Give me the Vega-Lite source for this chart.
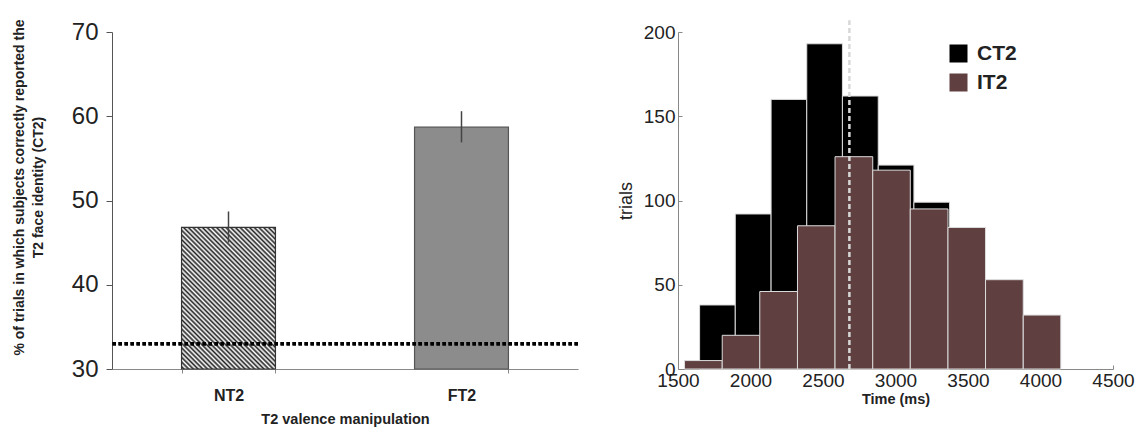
{
  "$schema": "https://vega.github.io/schema/vega-lite/v6.json",
  "padding": {"left": 12, "top": 18, "right": 5, "bottom": 5},
  "bounds": "flush",
  "spacing": 100,
  "config": {
    "view": {"stroke": null},
    "font": "Liberation Sans",
    "axis": {"grid": false, "labelColor": "#222", "titleColor": "#222", "labelFont": "Liberation Sans", "titleFont": "Liberation Sans"}
  },
  "hconcat": [
    {
      "width": 466,
      "height": 337,
      "data": {"values": [
        {"condition": "NT2", "percent": 46.8, "lower": 45.0, "upper": 48.7},
        {"condition": "FT2", "percent": 58.7, "lower": 56.9, "upper": 60.6}
      ]},
      "layer": [
        {
          "transform": [{"filter": "datum.condition === 'NT2'"}],
          "mark": {"type": "bar", "stroke": "#333", "strokeWidth": 1.2,
            "fill": {"gradient": "linear", "x1": 0, "y1": 1, "x2": 0.766, "y2": -0.155, "stops": [
              {"offset": 0.00, "color": "#ffffff"}, {"offset": 0.01, "color": "#222222"}, {"offset": 0.02, "color": "#ffffff"}, {"offset": 0.03, "color": "#222222"}, {"offset": 0.04, "color": "#ffffff"}, {"offset": 0.05, "color": "#222222"}, {"offset": 0.06, "color": "#ffffff"}, {"offset": 0.07, "color": "#222222"}, {"offset": 0.08, "color": "#ffffff"}, {"offset": 0.09, "color": "#222222"},
              {"offset": 0.10, "color": "#ffffff"}, {"offset": 0.11, "color": "#222222"}, {"offset": 0.12, "color": "#ffffff"}, {"offset": 0.13, "color": "#222222"}, {"offset": 0.14, "color": "#ffffff"}, {"offset": 0.15, "color": "#222222"}, {"offset": 0.16, "color": "#ffffff"}, {"offset": 0.17, "color": "#222222"}, {"offset": 0.18, "color": "#ffffff"}, {"offset": 0.19, "color": "#222222"},
              {"offset": 0.20, "color": "#ffffff"}, {"offset": 0.21, "color": "#222222"}, {"offset": 0.22, "color": "#ffffff"}, {"offset": 0.23, "color": "#222222"}, {"offset": 0.24, "color": "#ffffff"}, {"offset": 0.25, "color": "#222222"}, {"offset": 0.26, "color": "#ffffff"}, {"offset": 0.27, "color": "#222222"}, {"offset": 0.28, "color": "#ffffff"}, {"offset": 0.29, "color": "#222222"},
              {"offset": 0.30, "color": "#ffffff"}, {"offset": 0.31, "color": "#222222"}, {"offset": 0.32, "color": "#ffffff"}, {"offset": 0.33, "color": "#222222"}, {"offset": 0.34, "color": "#ffffff"}, {"offset": 0.35, "color": "#222222"}, {"offset": 0.36, "color": "#ffffff"}, {"offset": 0.37, "color": "#222222"}, {"offset": 0.38, "color": "#ffffff"}, {"offset": 0.39, "color": "#222222"},
              {"offset": 0.40, "color": "#ffffff"}, {"offset": 0.41, "color": "#222222"}, {"offset": 0.42, "color": "#ffffff"}, {"offset": 0.43, "color": "#222222"}, {"offset": 0.44, "color": "#ffffff"}, {"offset": 0.45, "color": "#222222"}, {"offset": 0.46, "color": "#ffffff"}, {"offset": 0.47, "color": "#222222"}, {"offset": 0.48, "color": "#ffffff"}, {"offset": 0.49, "color": "#222222"},
              {"offset": 0.50, "color": "#ffffff"}, {"offset": 0.51, "color": "#222222"}, {"offset": 0.52, "color": "#ffffff"}, {"offset": 0.53, "color": "#222222"}, {"offset": 0.54, "color": "#ffffff"}, {"offset": 0.55, "color": "#222222"}, {"offset": 0.56, "color": "#ffffff"}, {"offset": 0.57, "color": "#222222"}, {"offset": 0.58, "color": "#ffffff"}, {"offset": 0.59, "color": "#222222"},
              {"offset": 0.60, "color": "#ffffff"}, {"offset": 0.61, "color": "#222222"}, {"offset": 0.62, "color": "#ffffff"}, {"offset": 0.63, "color": "#222222"}, {"offset": 0.64, "color": "#ffffff"}, {"offset": 0.65, "color": "#222222"}, {"offset": 0.66, "color": "#ffffff"}, {"offset": 0.67, "color": "#222222"}, {"offset": 0.68, "color": "#ffffff"}, {"offset": 0.69, "color": "#222222"},
              {"offset": 0.70, "color": "#ffffff"}, {"offset": 0.71, "color": "#222222"}, {"offset": 0.72, "color": "#ffffff"}, {"offset": 0.73, "color": "#222222"}, {"offset": 0.74, "color": "#ffffff"}, {"offset": 0.75, "color": "#222222"}, {"offset": 0.76, "color": "#ffffff"}, {"offset": 0.77, "color": "#222222"}, {"offset": 0.78, "color": "#ffffff"}, {"offset": 0.79, "color": "#222222"},
              {"offset": 0.80, "color": "#ffffff"}, {"offset": 0.81, "color": "#222222"}, {"offset": 0.82, "color": "#ffffff"}, {"offset": 0.83, "color": "#222222"}, {"offset": 0.84, "color": "#ffffff"}, {"offset": 0.85, "color": "#222222"}, {"offset": 0.86, "color": "#ffffff"}, {"offset": 0.87, "color": "#222222"}, {"offset": 0.88, "color": "#ffffff"}, {"offset": 0.89, "color": "#222222"},
              {"offset": 0.90, "color": "#ffffff"}, {"offset": 0.91, "color": "#222222"}, {"offset": 0.92, "color": "#ffffff"}, {"offset": 0.93, "color": "#222222"}, {"offset": 0.94, "color": "#ffffff"}, {"offset": 0.95, "color": "#222222"}, {"offset": 0.96, "color": "#ffffff"}, {"offset": 0.97, "color": "#222222"}, {"offset": 0.98, "color": "#ffffff"}, {"offset": 0.99, "color": "#222222"},
              {"offset": 1.00, "color": "#ffffff"}
            ]}
          },
          "encoding": {
            "x": {"field": "condition", "type": "nominal",
              "scale": {"domain": ["NT2", "FT2"], "paddingInner": 0.597, "paddingOuter": 0.2985},
              "axis": {"title": "T2 valence manipulation", "labelAngle": 0, "labelFontSize": 16, "labelFontWeight": "bold", "labelPadding": 14, "tickBand": "extent", "tickSize": 4, "tickColor": "#888", "domainColor": "#888", "titleFontSize": 14.5, "titleFontWeight": "bold", "titlePadding": 9}},
            "y": {"field": "percent", "type": "quantitative",
              "scale": {"domain": [30, 70], "nice": false, "zero": false},
              "axis": {"title": ["% of trials in which subjects correctly reported the", "T2 face  identity (CT2)"], "titleFontSize": 14, "titleFontWeight": "bold", "titleLineHeight": 19, "titlePadding": 26, "titleY": 155, "values": [30, 40, 50, 60, 70], "labelFontSize": 24, "labelPadding": 8, "tickSize": 6, "tickColor": "#555", "domainColor": "#555"}},
            "y2": {"datum": 30}
          }
        },
        {
          "transform": [{"filter": "datum.condition === 'FT2'"}],
          "mark": {"type": "bar", "fill": "#8c8c8c", "stroke": "#555", "strokeWidth": 1.2},
          "encoding": {
            "x": {"field": "condition", "type": "nominal"},
            "y": {"field": "percent", "type": "quantitative"},
            "y2": {"datum": 30}
          }
        },
        {
          "mark": {"type": "rule", "stroke": "#444", "strokeWidth": 1.5},
          "encoding": {
            "x": {"field": "condition", "type": "nominal"},
            "y": {"field": "lower", "type": "quantitative"},
            "y2": {"field": "upper"}
          }
        },
        {
          "mark": {"type": "rule", "stroke": "#000", "strokeWidth": 3.5, "strokeDash": [3.5, 2.5]},
          "encoding": {"y": {"datum": 33, "type": "quantitative"}}
        }
      ]
    },
    {
      "width": 435,
      "height": 337,
      "layer": [
        {
          "data": {"values": [
            {"response": "CT2", "bin_start": 1649, "bin_end": 1895, "trials": 38},
            {"response": "CT2", "bin_start": 1895, "bin_end": 2142, "trials": 92},
            {"response": "CT2", "bin_start": 2142, "bin_end": 2388, "trials": 160},
            {"response": "CT2", "bin_start": 2388, "bin_end": 2634, "trials": 193},
            {"response": "CT2", "bin_start": 2634, "bin_end": 2881, "trials": 162},
            {"response": "CT2", "bin_start": 2881, "bin_end": 3127, "trials": 121},
            {"response": "CT2", "bin_start": 3127, "bin_end": 3373, "trials": 99},
            {"response": "IT2", "bin_start": 1545, "bin_end": 1805, "trials": 5},
            {"response": "IT2", "bin_start": 1805, "bin_end": 2064, "trials": 20},
            {"response": "IT2", "bin_start": 2064, "bin_end": 2324, "trials": 46},
            {"response": "IT2", "bin_start": 2324, "bin_end": 2583, "trials": 85},
            {"response": "IT2", "bin_start": 2583, "bin_end": 2843, "trials": 126},
            {"response": "IT2", "bin_start": 2843, "bin_end": 3102, "trials": 118},
            {"response": "IT2", "bin_start": 3102, "bin_end": 3362, "trials": 95},
            {"response": "IT2", "bin_start": 3362, "bin_end": 3621, "trials": 84},
            {"response": "IT2", "bin_start": 3621, "bin_end": 3881, "trials": 53},
            {"response": "IT2", "bin_start": 3881, "bin_end": 4140, "trials": 32}
          ]},
          "mark": {"type": "rect", "stroke": "#dcdcdc", "strokeWidth": 1},
          "encoding": {
            "x": {"field": "bin_start", "type": "quantitative",
              "scale": {"domain": [1500, 4500], "nice": false, "zero": false},
              "axis": {"title": "Time (ms)", "values": [1500, 2000, 2500, 3000, 3500, 4000, 4500], "format": "d", "labelFontSize": 19, "labelPadding": 6, "labelFlush": false, "labelOverlap": false, "tickSize": -4, "tickColor": "#888", "domainColor": "#888", "titleFontSize": 14.5, "titleFontWeight": "bold", "titlePadding": 2}},
            "x2": {"field": "bin_end"},
            "y": {"field": "trials", "type": "quantitative",
              "scale": {"domain": [0, 200], "nice": false},
              "axis": {"title": "trials", "titleFontSize": 18, "titleFontWeight": "normal", "titlePadding": 8, "values": [0, 50, 100, 150, 200], "labelFontSize": 19, "labelPadding": 7, "tickSize": -4, "tickColor": "#888", "domainColor": "#888"}},
            "y2": {"datum": 0},
            "color": {"field": "response", "type": "nominal",
              "scale": {"domain": ["CT2", "IT2"], "range": ["#000000", "#5f3f3f"]},
              "legend": {"title": null, "orient": "none", "legendX": 836, "legendY": 11, "symbolType": "square", "symbolSize": 324, "symbolStrokeWidth": 0, "labelFontSize": 21, "labelFontWeight": "bold", "labelColor": "#222", "labelOffset": 8, "rowPadding": 7, "padding": 0}}
          }
        },
        {
          "data": {"values": [{"median_time": 2682}]},
          "mark": {"type": "rule", "stroke": "#d8d8d8", "strokeWidth": 2.5, "strokeDash": [5, 3]},
          "encoding": {
            "x": {"field": "median_time", "type": "quantitative"},
            "y": {"datum": 0, "type": "quantitative"},
            "y2": {"datum": 207}
          }
        }
      ]
    }
  ]
}
